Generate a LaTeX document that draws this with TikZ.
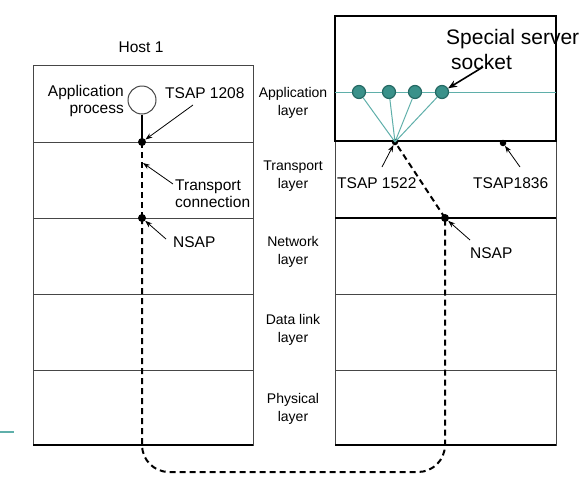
\documentclass[tikz,border=0pt]{standalone}
\usepackage{fontspec}
\setmainfont{Liberation Sans}
\usetikzlibrary{arrows.meta}
\definecolor{tealfill}{RGB}{58,145,138}
\definecolor{tealedge}{RGB}{38,105,100}
\definecolor{tealline}{RGB}{95,175,170}
\definecolor{frame}{RGB}{70,70,70}
\tikzset{
  ann/.style={font=\fontsize{15.5}{17.5}\selectfont, inner sep=0pt, text=black},
  layerlbl/.style={font=\fontsize{14}{18}\selectfont, inner sep=0pt, align=center, anchor=north},
  dot/.style={circle, fill=black, inner sep=0pt, minimum size=8pt},
  smalldot/.style={circle, fill=black, inner sep=0pt, minimum size=6.5pt},
  pointer/.style={-{Stealth[length=7pt,width=5pt]}, line width=0.8pt},
  dashline/.style={line width=2pt, dash pattern=on 6pt off 4pt},
  rowline/.style={draw=frame, line width=1pt},
  socketnode/.style={circle, fill=tealfill, draw=tealedge, line width=1.2pt, minimum size=13pt, inner sep=0pt},
}
\begin{document}
\begin{tikzpicture}[x=1pt,y=-1pt]
\useasboundingbox (0,0) rectangle (580,490);

% slide artefact
\draw[tealline, line width=2pt] (0,432) -- (14,432);

% ---------- Host 1 stack ----------
\draw[rowline] (33,65) rectangle (253,445);
\foreach \yy in {142,218,294,370} \draw[rowline] (33,\yy) -- (253,\yy);
\draw[black, line width=1.2pt] (33,445) -- (253,445);

% ---------- Host 2 stack ----------
\draw[rowline] (335,141) rectangle (556,445);
\foreach \yy in {218,294,370} \draw[rowline] (335,\yy) -- (556,\yy);
\draw[black, line width=1.2pt] (335,445) -- (556,445);
\draw[black, line width=1.2pt] (335,218) -- (556,218);
\draw[black, line width=2.5pt] (335,16) rectangle (556,141);

% layer labels
\node[layerlbl] (lapp) at (293,87) {Application\\layer};
\node[layerlbl] (ltra) at (293,161) {Transport\\layer};
\node[layerlbl] (lnet) at (293,236) {Network\\layer};
\node[layerlbl] (ldl)  at (293,314) {Data link\\layer};
\node[layerlbl] (lphy) at (293,393) {Physical\\layer};

% Host 1 title
\node[ann, anchor=center] (host1) at (141,47) {Host 1};

% application process
\node[circle, draw=frame, fill=white, line width=1pt, minimum size=28pt, inner sep=0pt] (proc) at (142,100) {};
\node[ann, align=right, anchor=north east] (procl) at (124,85) {Application\\process};

% dots
\node[dot] (tsapL) at (142,142) {};
\node[dot] (nsapL) at (142,218) {};
\node[smalldot] (tsapR) at (395,142) {};
\node[dot] (nsapR) at (445,218) {};
\node[smalldot] (tsapX) at (503,143) {};

\draw[black, line width=2.5pt] (proc.south) -- (tsapL.center);

% dashed connection
\draw[dashline] (tsapL.center) -- (nsapL.center);
\draw[dashline, rounded corners=27pt] (nsapL.center) -- (142,472) -- (445,472) -- (nsapR.center);
\draw[dashline] (nsapR.center) -- (tsapR.center);

% special server socket
\draw[tealline, line width=1pt] (335,92) -- (556,92);
\foreach \n/\xx in {s1/359, s2/389, s3/415, s4/442} {
  \node[socketnode] (\n) at (\xx,92) {};
}
\foreach \n in {s1,s2,s3,s4} \draw[tealline, line width=1pt] (\n) -- (tsapR.center);

% labels
\node[ann, anchor=west] (l1208) at (165,93) {TSAP 1208};
\node[ann, align=left, anchor=north west] (ltc) at (175,179.5) {Transport\\connection};
\node[ann, anchor=west] (lnsapL) at (173,242) {NSAP};
\node[ann, anchor=west] (lnsapR) at (470,253) {NSAP};
\node[ann, anchor=west] (l1522) at (337,183) {TSAP 1522};
\node[ann, anchor=west] (l1836) at (473,183) {TSAP1836};
\node[font=\fontsize{21}{25}\selectfont, inner sep=0pt, align=left, anchor=north west] (lsss) at (446,29.5) {Special server\\\hspace*{5pt}socket};

% pointers
\coordinate (p1208) at (193,105);
\coordinate (ptc) at (173,184);
\coordinate (pnl) at (166,239);
\coordinate (pnr) at (470,240);
\coordinate (p1522) at (382,167);
\coordinate (p1836) at (520,167);
\coordinate (psss) at (483,67);
\draw[pointer] (p1208) -- (tsapL);
\draw[pointer] (ptc) -- (143,163);
\draw[pointer] (pnl) -- (nsapL);
\draw[pointer] (pnr) -- (nsapR);
\draw[pointer] (p1522) -- (tsapR);
\draw[pointer] (p1836) -- (tsapX);
\draw[-{Stealth[length=9pt,width=7pt]}, line width=1.6pt] (psss) -- (s4);
\end{tikzpicture}
\end{document}
